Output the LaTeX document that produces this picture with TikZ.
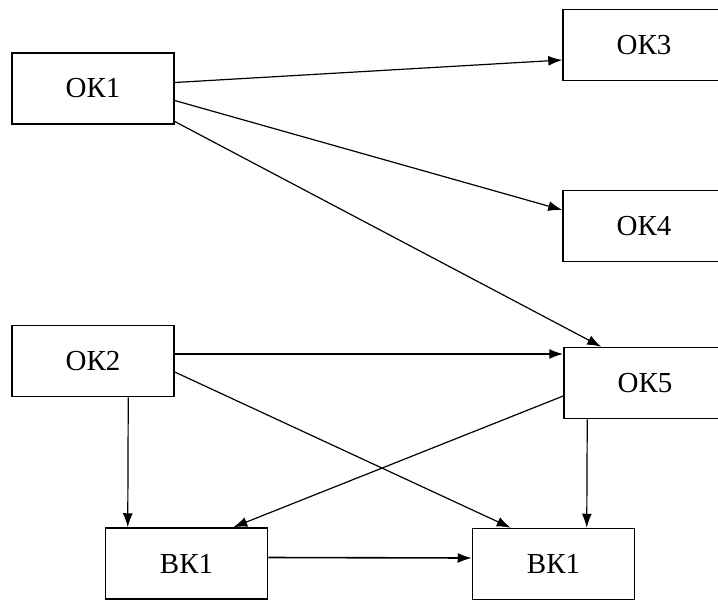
\documentclass[tikz,border=0pt]{standalone}
\usepackage{fontspec}
\setmainfont{Liberation Serif}
\usetikzlibrary{arrows.meta}
\usetikzlibrary{positioning}

\begin{document}
\begin{tikzpicture}[x=1pt,y=-1pt]
\tikzstyle{block} = [rectangle, draw, line width=1.5pt, minimum width=162pt,
minimum height=71pt, inner sep=0pt, font=\fontsize{29}{34}\selectfont]
\tikzstyle{line} = [draw, line width=1.2pt, -{Latex[length=14pt,width=10pt]}];
\useasboundingbox (0,0) rectangle (718,600);
% left column
\node [block] (ok1) at (93,88.5) {ОК1};
\node [block] (ok2) at (93,361) {ОК2};
% right column
\node [block] (ok3) at (644,45) {ОК3};
\node [block] (ok4) at (644,226) {ОК4};
\node [block] (ok5) at (645,383) {ОК5};
% bottom row
\node [block] (bk1l) at (186.5,563.5) {ВК1};
\node [block] (bk1r) at (553.5,564) {ВК1};
\draw[line] ([yshift=6pt]ok1.east) -- ([yshift=-15pt]ok3.west);
\draw[line] ([yshift=-12pt]ok1.east) -- ([yshift=16pt]ok4.west);
\draw[line] ([yshift=-33pt]ok1.east) -- ([xshift=38pt]ok5.north west);
\draw[line, line width=1.6pt] ([yshift=7pt]ok2.east) -- ([yshift=29pt]ok5.west);
\draw[line] ([yshift=-11pt]ok2.east) -- ([xshift=39pt]bk1r.north west);
\draw[line] ([xshift=117pt]ok2.south west) -- ([xshift=23pt]bk1l.north west);
\draw[line] ([yshift=-13pt]ok5.west) -- ([xshift=-35pt]bk1l.north east);
\draw[line] ([xshift=24pt]ok5.south west) -- ([xshift=115pt]bk1r.north west);
\draw[line, line width=1.6pt] ([yshift=6pt]bk1l.east) -- ([yshift=6pt]bk1r.west);
\end{tikzpicture}
\end{document}
